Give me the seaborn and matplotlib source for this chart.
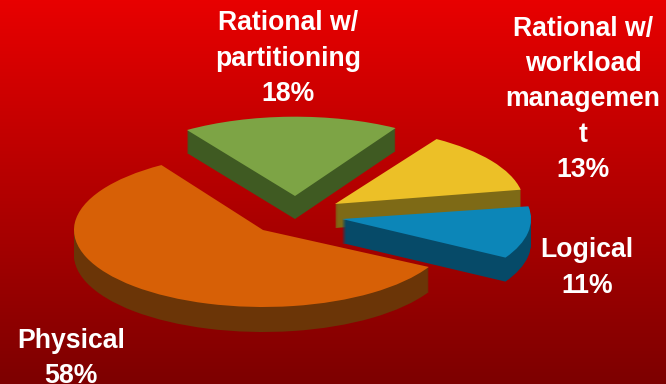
import numpy as np
import matplotlib
matplotlib.use("Agg")
import matplotlib.pyplot as plt
import seaborn as sns

categories = ["Physical", "Logical", "Rational w/\nworkload\nmanagemen\nt", "Rational w/\npartitioning"]
values = [58, 11, 13, 18]
top_colors = ["#D76006", "#0C86B8", "#ECC027", "#7DA445"]
side_colors = ["#6B3507", "#064A68", "#7E6A16", "#3F5A22"]

W, H = 666, 384
RX, RY = 189, 77
START = 122.5
apex_px = [(263, 230), (342, 219), (335, 204), (295, 196)]
label_px = [(71, 358.5), (587, 268), (583, 99.5), (288, 58.5)]
depths = [25, 24, 24, 23]
radii = [1, 1, 1, 1.03]
rotation = [0, -1.4, -0.2, 1.2]
draw_order = [3, 2, 0, 1]

sns.set_theme(style="white")
plt.rcParams["font.family"] = ["Liberation Sans", "DejaVu Sans"]
fig = plt.figure(figsize=(W / 100, H / 100), dpi=100)

bg = fig.add_axes([0, 0, 1, 1])
shade = np.linspace(0, 1, 256)[:, None]
top_c, bot_c = np.array([232, 0, 0]) / 255, np.array([125, 0, 0]) / 255
bg.imshow((1 - shade)[..., None] * top_c + shade[..., None] * bot_c, aspect="auto")
bg.set_axis_off()

ax = fig.add_axes([0, 0, 1, 1])
ax.patch.set_alpha(0)


def x_of(px):
    return (px - W / 2) / RX


def y_of(py):
    return (H / 2 - py) / RY


angles = START + np.cumsum([0] + [v * 3.6 for v in values[:-1]]) + np.array(rotation)
for i in draw_order:
    cx, cy = apex_px[i]
    sizes = [values[i], 100 - values[i]]
    for d in list(range(depths[i], 0, -1)) + [0]:
        color = top_colors[i] if d == 0 else side_colors[i]
        wedges, _ = ax.pie(sizes, startangle=angles[i], counterclock=True, radius=radii[i],
                           center=(x_of(cx), y_of(cy + d)), colors=[color, "none"],
                           wedgeprops={"linewidth": 0})
        wedges[1].set_visible(False)

ax.set_aspect("auto")
ax.set_xlim(x_of(0), x_of(W))
ax.set_ylim(y_of(H), y_of(0))
ax.set_axis_off()

for name, v, (lx, ly) in zip(categories, values, label_px):
    fig.text(lx / W, 1 - ly / H, f"{name}\n{v}%", ha="center", va="center", color="white",
             fontsize=19.2, fontweight="bold", linespacing=1.46, clip_on=False)

fig.savefig("out.png", dpi=100)
